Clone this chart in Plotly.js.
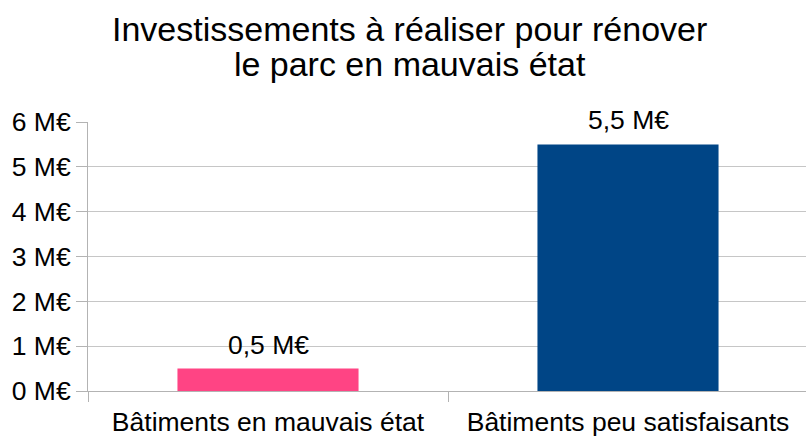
<!DOCTYPE html>
<html>
<head>
<meta charset="utf-8">
<script src="https://cdn.plot.ly/plotly-3.0.1.min.js"></script>
<style>
  html, body { margin: 0; padding: 0; background: #fff; overflow: hidden; }
  #plot { width: 808px; height: 437px; }
</style>
</head>
<body>
<div id="plot"></div>
<script>
var categories = ['Bâtiments en mauvais état', 'Bâtiments peu satisfaisants'];
var values = [0.5, 5.5];
var barColors = ['#ff4484', '#004586'];
var valueLabels = ['0,5 M€', '5,5 M€'];
var tickVals = [0, 1, 2, 3, 4, 5, 6];
var tickText = ['0 M€', '1 M€', '2 M€', '3 M€', '4 M€', '5 M€', '6 M€'];

var font = 'Liberation Sans, Arial, sans-serif';

var trace1 = {
  x: categories,
  y: values,
  type: 'bar',
  width: 0.503,
  marker: {color: barColors},
  hoverinfo: 'none'
};

var labels = categories.map((c, i) => ({
  x: c,
  y: values[i],
  text: valueLabels[i],
  showarrow: false,
  yanchor: 'bottom',
  yshift: 7,
  font: {family: font, size: 26.5, color: '#000'}
}));

var big = t => "<span style='font-size:34px'>" + t + "</span>";

var layout = {
  width: 808,
  height: 437,
  margin: {l: 88, r: 0, t: 122, b: 46},
  paper_bgcolor: '#fff',
  plot_bgcolor: '#fff',
  font: {family: font, color: '#000'},
  title: {
    text: big('Investissements à réaliser pour rénover') + '<br>' + big('le parc en mauvais état'),
    font: {family: font, size: 27, color: '#000'},
    x: 0.507,
    xanchor: 'center',
    y: 0.906,
    yanchor: 'top'
  },
  xaxis: {
    type: 'category',
    showline: true,
    linecolor: '#b3b3b3',
    linewidth: 1,
    ticks: 'outside',
    tickson: 'boundaries',
    ticklen: 10,
    tickcolor: '#b3b3b3',
    ticklabelstandoff: 7,
    tickfont: {family: font, size: 26.5, color: '#000'},
    showgrid: false
  },
  yaxis: {
    range: [0, 6],
    tickvals: tickVals,
    ticktext: tickText,
    showline: true,
    linecolor: '#b3b3b3',
    ticks: 'outside',
    ticklen: 11,
    tickcolor: '#b3b3b3',
    gridcolor: '#c6c6c6',
    zeroline: false,
    tickfont: {family: font, size: 26.5, color: '#000'}
  },
  annotations: labels,
  showlegend: false,
  bargap: 0.5
};

Plotly.newPlot('plot', [trace1], layout, {displayModeBar: false, staticPlot: true});
</script>
</body>
</html>
